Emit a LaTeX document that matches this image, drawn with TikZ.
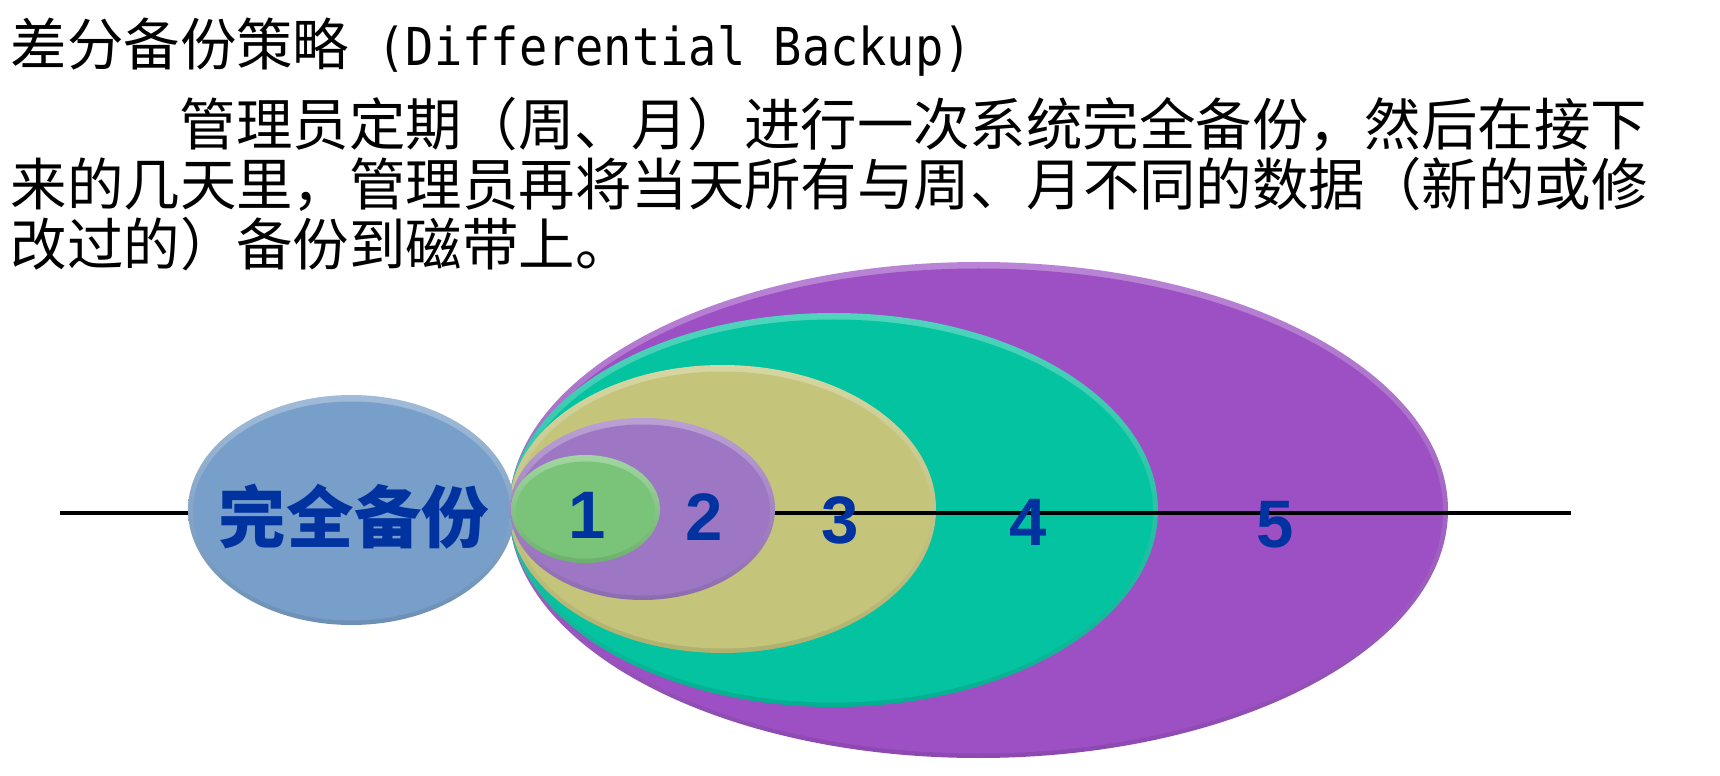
\documentclass[tikz,border=0pt]{standalone}
\usepackage{fontspec}
\setmainfont{Noto Sans CJK SC}
\newfontfamily\latmono[FakeStretch=0.9]{DejaVu Sans Mono}
\newfontfamily\numfont{Liberation Sans}
\usepackage{tikz}

\definecolor{dayone}{HTML}{79C479}
\definecolor{daytwo}{HTML}{9D77C3}
\definecolor{daythree}{HTML}{C4C47A}
\definecolor{dayfour}{HTML}{03C3A0}
\definecolor{dayfive}{HTML}{9C50C4}
\definecolor{fullblue}{HTML}{789FC9}
\definecolor{labelblue}{HTML}{0033A0}

% colour, centre x, centre y, x radius, y radius
\newcommand{\daydisc}[5]{%
  \shade [top color=#1!70!white, bottom color=#1!90!black] (#2,#3) ellipse [x radius=#4, y radius=#5];
  \fill [#1] (#2,#3+1) ellipse [x radius=#4-5, y radius=#5-5.5];
}

\begin{document}
\begin{tikzpicture}[
    x=0.01cm, y=-0.01cm,
    txt/.style={anchor=base west, inner sep=0pt, font=\fontsize{16.05pt}{19pt}\selectfont},
    num/.style={text=labelblue, inner sep=0pt, font=\numfont\bfseries\fontsize{19.1pt}{22pt}\selectfont}
]

\useasboundingbox (0,0) rectangle (1720,776);

% Title
\node (title) [txt] at (10,66) {差分备份策略{\latmono\fontsize{14.85pt}{19pt}\selectfont{} (Differential Backup)}};

% Text
\node (lineone) [txt] at (179,146) {管理员定期（周、月）进行一次系统完全备份，然后在接下};
\node (linetwo) [txt] at (10,206) {来的几天里，管理员再将当天所有与周、月不同的数据（新的或修};
\node (linethree) [txt] at (10,266) {改过的）备份到磁带上。};

% Days
\daydisc{dayfive}{978.5}{510}{469.5}{248}
\daydisc{dayfour}{833.5}{510}{324.5}{197}
\daydisc{daythree}{722.5}{509}{213.5}{144}

% Time line
\coordinate (lineW) at (60,513);
\coordinate (lineE) at (1571,513);
\draw [line width=1pt] (lineW) -- (lineE);

% Full backup
\daydisc{fullblue}{351.5}{510}{163.5}{115}
\daydisc{daytwo}{642.5}{509}{132.5}{91}
\daydisc{dayone}{585.5}{509}{74.5}{54}

% Labels
\node (full) [text=labelblue, inner sep=0pt, font=\bfseries\fontsize{19.2pt}{22pt}\selectfont] at (354,517) {完全备份};
\node (one) [num] at (587,515) {1};
\node (two) [num] at (704,517) {2};
\node (three) [num] at (840,520) {3};
\node (four) [num] at (1028,522) {4};
\node (five) [num] at (1275,525) {5};

\end{tikzpicture}
\end{document}
